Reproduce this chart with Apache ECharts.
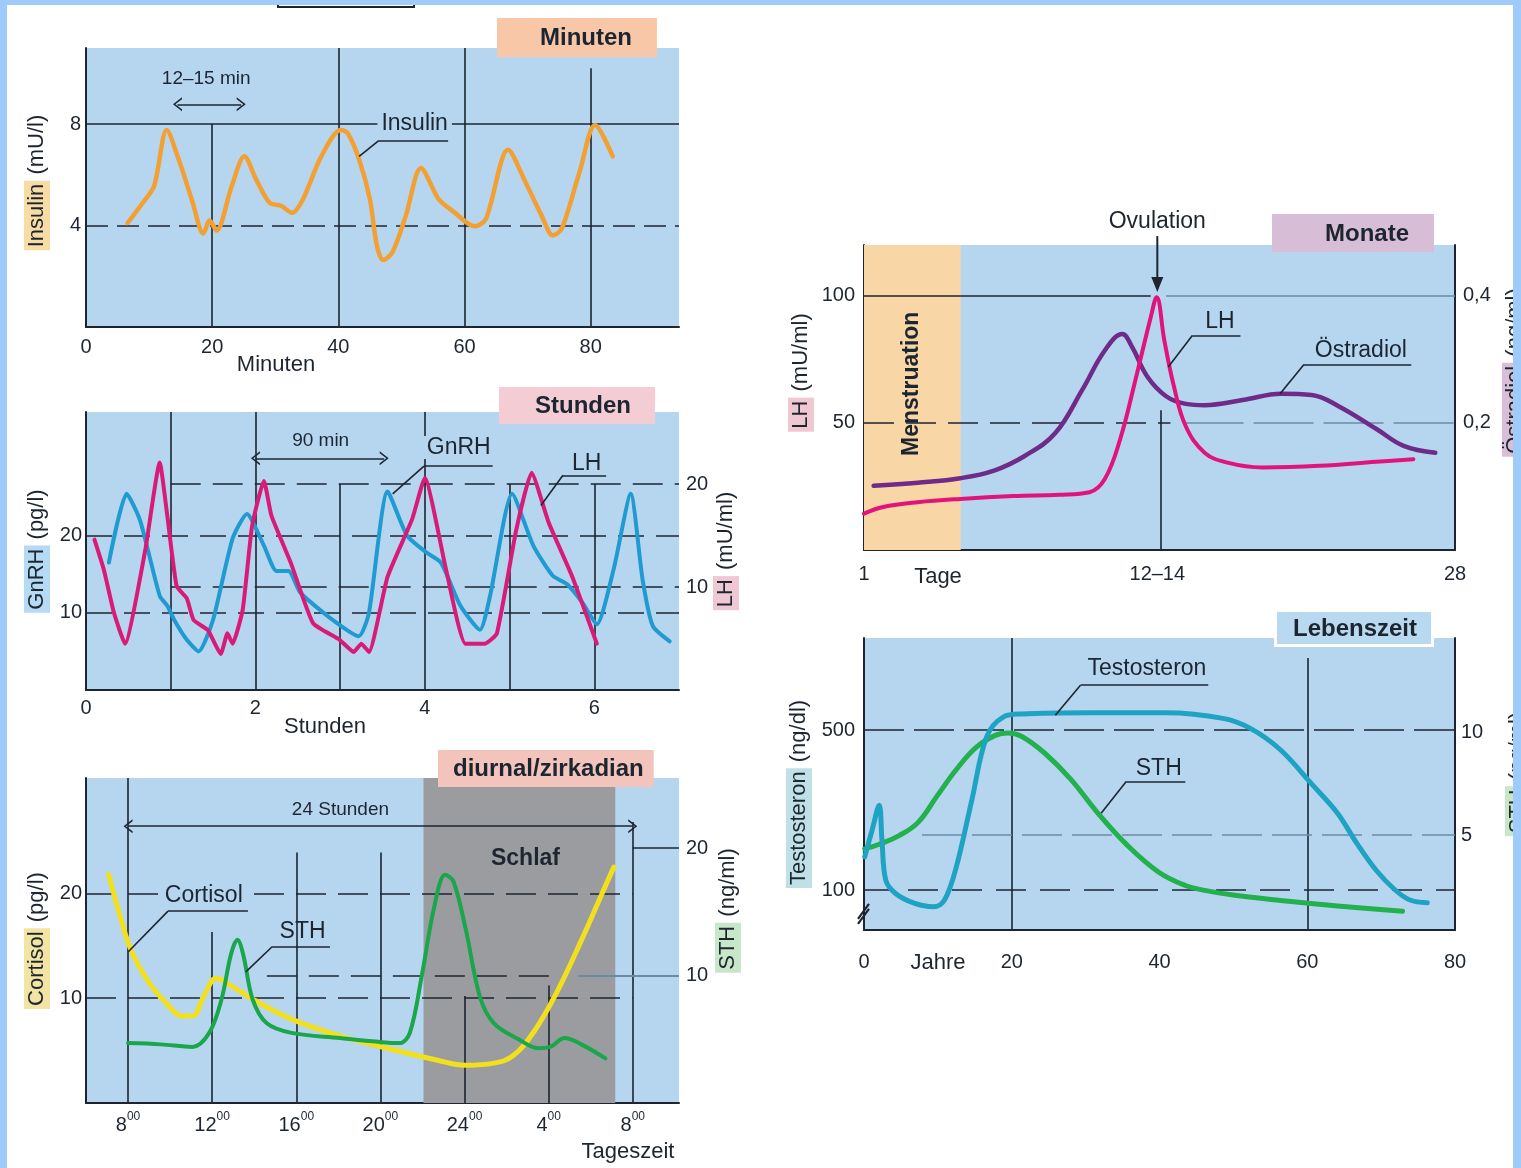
<!DOCTYPE html>
<html lang="de">
<head>
<meta charset="UTF-8">
<title>Hormonrhythmen</title>
<style>
  html, body { margin: 0; background: #fff; }
  #chart { width: 1521px; height: 1168px; }
</style>
</head>
<body>
<div id="chart"></div>
<script src="https://cdn.jsdelivr.net/npm/echarts@6/dist/echarts.min.js"></script>
<script>
// ---- Minuten: Insulin
const insulinMin = [6.6, 9.0, 10.8, 12.8, 14.7, 16.8, 18.6, 19.6, 20.7, 23.1, 25.1, 27.0, 29.1, 30.9, 32.7, 34.4, 37.3, 40.4, 41.5, 43.3, 45.0, 46.1, 47.1, 48.6, 50.7, 53.1, 55.9, 58.4, 61.6, 63.4, 66.9, 69.7, 72.2, 74.0, 75.4, 78.2, 80.7, 83.5];
const insulinVal = [4.1, 4.9, 5.56, 7.77, 6.6, 5.0, 3.68, 4.2, 3.8, 5.56, 6.73, 5.8, 4.9, 4.78, 4.5, 5.04, 6.73, 7.77, 7.64, 6.6, 5.04, 3.22, 2.64, 2.96, 4.39, 6.27, 5.04, 4.52, 3.97, 4.26, 6.99, 5.69, 4.4, 3.61, 3.87, 6.08, 7.96, 6.73];

// ---- Stunden: GnRH (pg/l) and LH (mU/ml)
const gnrhHour = [0.27, 0.48, 0.64, 0.87, 0.96, 1.04, 1.19, 1.33, 1.5, 1.73, 1.9, 2.1, 2.25, 2.39, 2.53, 2.88, 3.22, 3.34, 3.56, 3.79, 4.02, 4.19, 4.42, 4.65, 4.77, 5.03, 5.28, 5.51, 5.68, 5.86, 6.03, 6.23, 6.43, 6.57, 6.69, 6.89];
const gnrhVal = [16.5, 25.4, 21.9, 12.2, 10.9, 9.1, 6.5, 5.0, 9.1, 19.6, 22.8, 18.7, 15.4, 15.4, 12.6, 9.35, 6.96, 10, 25.7, 20, 17.8, 16.5, 10.9, 7.8, 12.2, 25.4, 18.7, 14.8, 13.7, 11.3, 8.5, 15.7, 25.4, 14.3, 8.3, 6.3];
const lhHour = [0.1, 0.21, 0.33, 0.46, 0.70, 0.87, 0.96, 1.07, 1.19, 1.27, 1.44, 1.59, 1.67, 1.73, 1.85, 1.96, 2.1, 2.19, 2.42, 2.68, 2.99, 3.16, 3.25, 3.34, 3.56, 3.85, 4.0, 4.25, 4.48, 4.71, 4.85, 5.08, 5.26, 5.46, 5.74, 6.03];
const lhVal = [14.6, 11.7, 7.5, 4.5, 13.6, 22.1, 16.9, 10.1, 8.9, 6.8, 5.8, 3.5, 5.5, 4.5, 7.8, 15.9, 20.3, 16.9, 12.3, 6.5, 4.9, 3.7, 4.5, 3.7, 11.0, 16.6, 20.6, 11.7, 4.5, 4.5, 5.5, 15.6, 21.1, 16.3, 11.0, 4.5];

// ---- diurnal: Cortisol (pg/l) and STH (ng/ml); hours after midnight of day 1 (28 = 4 Uhr, 32 = 8 Uhr)
const cortisolHour = [7.08, 7.61, 8.18, 8.99, 9.79, 10.6, 11.06, 11.63, 12.2, 12.9, 13.93, 15.77, 18.07, 20.37, 22.67, 24.05, 25.4, 26.3, 27.3, 28.4, 29.6, 30.5, 31.1];
const cortisolVal = [21.8, 17.9, 14.4, 11.5, 9.6, 8.3, 8.3, 10.3, 11.9, 11.2, 9.9, 8.0, 6.4, 5.2, 4.1, 3.6, 3.8, 4.5, 6.8, 10.6, 15.7, 19.8, 22.5];
const sthDayHour = [8.0, 9.56, 11.06, 11.86, 12.44, 12.9, 13.2, 13.47, 13.93, 14.6, 15.77, 18.07, 19.9, 20.9, 21.4, 21.98, 22.55, 23.08, 23.47, 24.05, 24.74, 25.4, 26.57, 27.5, 28.07, 28.76, 29.56, 30.7];
const sthDayVal = [4.7, 4.6, 4.4, 5.5, 8.1, 11.7, 12.8, 11.7, 8.1, 6.25, 5.5, 5.1, 4.8, 4.7, 5.5, 10.1, 15.3, 17.9, 17.4, 13.7, 8.3, 6.25, 5.0, 4.3, 4.4, 5.1, 4.6, 3.5];
const dayTicks = [8, 12, 16, 20, 24, 28, 32];
const sleepSpan = [22.05, 31.17];

// ---- Monate: LH (mU/ml) and Östradiol (ng/ml)
const cycleDayLH = [1.0, 1.87, 3.45, 5.4, 7.82, 9.92, 11.3, 12.0, 12.7, 13.4, 14.1, 14.37, 14.72, 15.16, 15.7, 16.56, 17.6, 19.2, 21.8, 24.4, 26.1];
const cycleLH = [14.3, 16.9, 18.8, 20.1, 21.2, 21.7, 22.7, 27.9, 43.5, 66.9, 91.6, 99.4, 82.5, 64.3, 48.7, 38.3, 34.4, 32.5, 33.1, 34.7, 35.7];
const cycleDayOe = [1.44, 3.45, 5.4, 6.94, 8.34, 9.74, 10.97, 12.0, 12.8, 13.24, 13.94, 14.8, 15.7, 16.56, 18.3, 20.06, 21.45, 22.7, 24.43, 25.65, 27.1];
const cycleOe = [0.101, 0.106, 0.113, 0.125, 0.148, 0.184, 0.252, 0.314, 0.340, 0.320, 0.273, 0.242, 0.230, 0.228, 0.236, 0.246, 0.244, 0.226, 0.190, 0.164, 0.153];
const mensSpan = [1, 5.42];
const ovulationDay = 14.4;

// ---- Lebenszeit: Testosteron (ng/dl) and STH (ng/ml)
const testoYear = [0.1, 1.1, 2.06, 2.43, 2.94, 4.23, 6.8, 9.4, 10.9, 12.5, 14.6, 16.6, 18.9, 21.3, 30.6, 40.9, 48.6, 52.3, 56.4, 60.5, 64.1, 66.7, 69.3, 71.9, 73.9, 76.25];
const testoVal = [183, 250, 312, 225, 125, 92, 67, 58, 75, 158, 325, 483, 533, 540, 543, 543, 529, 504, 450, 367, 292, 217, 150, 100, 75, 68];
const sthLifeYear = [0.1, 2.17, 4.75, 7.33, 9.9, 12.5, 15.1, 17.7, 19.5, 21.3, 24.4, 28.0, 31.6, 35.7, 39.9, 43.5, 46.1, 50.2, 56.4, 64.1, 72.9];
const sthLifeVal = [4.32, 4.56, 4.97, 5.62, 6.92, 8.21, 9.27, 9.87, 10.0, 9.84, 9.03, 7.73, 6.1, 4.48, 3.18, 2.53, 2.29, 2.05, 1.8, 1.53, 1.27];

// ---------------------------------------------------------------
const FONT = "'Liberation Sans', Arial, Helvetica, sans-serif";
const INK = '#1c2530';
const PLOT = '#b6d6f0';
const FADE = '#6b8ba5';
const CHEV = 'path://M0,10 L5,0 L10,10 L8.6,10 L5,2.6 L1.4,10 Z';

function pts(xs, ys) { return xs.map((x, i) => [x, ys[i]]); }

function seg(a, b, o) {
  o = o || {};
  return [
    { coord: a, symbol: o.s1 || 'none', symbolSize: o.size || 10,
      lineStyle: { color: o.color || INK, width: o.width || 1.6, type: o.type || 'solid' } },
    { coord: b, symbol: o.s2 || 'none', symbolSize: o.size || 10 }
  ];
}

function tag(x, y, text, o) {
  o = o || {};
  return {
    coord: [x, y], symbol: 'circle', symbolSize: 1, itemStyle: { color: 'rgba(0,0,0,0)' },
    label: {
      show: true, position: 'inside', formatter: text, fontFamily: FONT,
      fontSize: o.size || 23, fontWeight: o.bold ? 'bold' : 'normal', color: INK,
      rotate: o.rotate || 0, backgroundColor: o.bg || 'transparent', padding: o.pad || [0, 4]
    }
  };
}

function frame(name, x, y, lines, area) {
  const s = {
    name: name, type: 'line', xAxisIndex: x, yAxisIndex: y, data: [], silent: true,
    markLine: { silent: true, z: 2, animation: false, symbol: ['none', 'none'],
      label: { show: false }, data: lines }
  };
  if (area) {
    s.markArea = { silent: true, z: 1, animation: false, data: area.data,
      itemStyle: { color: area.color } };
  }
  return s;
}

function curve(name, x, y, data, color, width, smooth, ann) {
  const s = {
    name: name, type: 'line', xAxisIndex: x, yAxisIndex: y, data: data, z: 3,
    showSymbol: false, smooth: smooth, silent: true,
    lineStyle: { color: color, width: width, cap: 'round', join: 'round' }
  };
  if (ann) {
    s.markLine = { silent: true, animation: false, symbol: ['none', 'none'],
      label: { show: false }, data: ann.lines };
    s.markPoint = { silent: true, animation: false, data: ann.tags };
  }
  return s;
}

function xAx(grid, min, max, ticks, margin, fmt) {
  return {
    type: 'value', gridIndex: grid, min: min, max: max,
    axisLine: { show: true, onZero: false, lineStyle: { color: INK, width: 2 } },
    axisTick: { show: false }, splitLine: { show: false },
    axisLabel: { customValues: ticks, margin: margin, fontSize: 20, fontFamily: FONT,
      color: INK, formatter: fmt, rich: {
        n: { fontSize: 20, fontFamily: FONT, color: INK, lineHeight: 24, verticalAlign: 'bottom' },
        s: { fontSize: 12, fontFamily: FONT, color: INK, lineHeight: 24, verticalAlign: 'top' }
      } }
  };
}

// shift > 0 moves the rotated axis name upwards
function yAx(grid, min, max, ticks, pos, name, hl, gap, margin, showLine, fmt, shift) {
  return {
    type: 'value', gridIndex: grid, min: min, max: max, position: pos,
    axisLine: { show: showLine, onZero: false, lineStyle: { color: INK, width: 2 } },
    axisTick: { show: false }, splitLine: { show: false },
    axisLabel: { customValues: ticks, margin: margin, fontSize: 20, fontFamily: FONT,
      color: INK, formatter: fmt },
    name: name, nameLocation: 'middle', nameRotate: 90, nameGap: gap,
    nameTextStyle: { fontSize: 22, fontFamily: FONT, color: INK, padding: [0, 0, 0, shift || 0],
      rich: { hl: { backgroundColor: hl, padding: [2, 3], fontSize: 22, fontFamily: FONT, color: INK } } }
  };
}

function box(text, left, top, pad, bg, border) {
  return {
    text: text, left: left, top: top, padding: pad, backgroundColor: bg,
    borderColor: border ? '#ffffff' : 'transparent', borderWidth: border ? 3 : 0,
    textStyle: { fontSize: 24, lineHeight: 24, fontWeight: 'bold', fontFamily: FONT, color: INK }
  };
}

function caption(text, x, y, size) {
  return { type: 'text', x: x, y: y, z: 50, silent: true,
    style: { text: text, fill: INK, font: (size || 22) + 'px ' + FONT, textAlign: 'center',
      textVerticalAlign: 'middle', align: 'center', verticalAlign: 'middle' } };
}

const dayFmt = v => '{n|' + (v > 24 ? v - 24 : v) + '}{s|00}';
const commaFmt = v => String(v).replace('.', ',');

const option = {
  animation: false,
  backgroundColor: '#ffffff',
  title: [
    box('Minuten', 497, 18, [8, 25, 7, 43], '#f8c7a8'),
    box('Stunden', 499, 387, [7, 24, 6, 36], '#f3cdd3'),
    box('diurnal/zirkadian', 438, 750, [7, 10, 6, 15], '#f2c4bb'),
    box('Monate', 1272, 214, [8, 25, 6, 53], '#d8bdd6'),
    box('Lebenszeit', 1275, 610, [7, 16, 5, 18], '#b9d9f1', true)
  ],
  grid: [
    { left: 86, top: 48, width: 593, height: 279 },
    { left: 86, top: 412, width: 593, height: 278 },
    { left: 86, top: 778, width: 593, height: 325 },
    { left: 864, top: 245, width: 591, height: 305 },
    { left: 864, top: 638, width: 591, height: 292 }
  ].map(g => Object.assign(g, { show: true, backgroundColor: PLOT, borderWidth: 0,
    containLabel: false, outerBoundsMode: 'none' })),
  xAxis: [
    xAx(0, 0, 94, [0, 20, 40, 60, 80], 10),
    xAx(1, 0, 7, [0, 2, 4, 6], 8),
    xAx(2, 6, 34.2, dayTicks, 8, dayFmt),
    xAx(3, 1, 28, [1, ovulationDay, 28], 14, v => (v === ovulationDay ? '12–14' : String(v))),
    xAx(4, 0, 80, [0, 20, 40, 60, 80], 22)
  ],
  yAxis: [
    yAx(0, 0, 11, [4, 8], 'left', '{hl|Insulin} (mU/l)', '#f8dca5', 36, 5, true, null, 10),
    yAx(1, 0, 36, [10, 20], 'left', '{hl|GnRH} (pg/l)', '#b5daf3', 36, 4, true),
    yAx(1, 0, 27, [10, 20], 'right', '{hl|LH} (mU/ml)', '#f0c8d3', 34, 7, false),
    yAx(2, 0, 31, [10, 20], 'left', '{hl|Cortisol} (pg/l)', '#f2e4a2', 36, 4, true),
    yAx(2, 0, 25.5, [10, 20], 'right', '{hl|STH} (ng/ml)', '#c8e6c8', 36, 7, false, null, 60),
    yAx(3, 0, 120, [50, 100], 'left', '{hl|LH} (mU/ml)', '#efc8d2', 50, 9, true, null, 50),
    yAx(3, 0, 0.48, [0.2, 0.4], 'right', '{hl|Östradiol} (ng/ml)', '#d8bed6', 47, 8, true, commaFmt, 50),
    yAx(4, 0, 730, [100, 500], 'left', '{hl|Testosteron} (ng/dl)', '#bfe1e6', 52, 9, true, null, -20),
    yAx(4, 0.35, 14.65, [5, 10], 'right', '{hl|STH} (ng/ml)', '#c8e6c8', 50, 6, true, null, 20)
  ],
  series: [
    // Minuten
    frame('g0', 0, 0, [
      seg([0, 8], [94, 8]),
      seg([0, 4], [94, 4], { type: [22, 9] }),
      seg([20, 0], [20, 8]), seg([40, 0], [40, 11]), seg([60, 0], [60, 11]), seg([80, 0], [80, 10.2])
    ]),
    curve('Insulin', 0, 0, pts(insulinMin, insulinVal), '#f2a033', 4.5, 0.3, {
      lines: [
        seg([14.5, 8.78], [24.6, 8.78], { s1: CHEV, s2: CHEV, size: [14, 9] }),
        seg([43.3, 6.73], [46.4, 7.35]), seg([46.4, 7.35], [57.4, 7.35])
      ],
      tags: [tag(19.05, 9.78, '12–15 min', { size: 19 }), tag(52.1, 8.03, 'Insulin', { bg: PLOT })]
    }),

    // Stunden
    frame('g1L', 1, 1, [
      seg([0, 20], [7, 20], { type: [26, 12] }),
      seg([0, 10], [7, 10], { type: [26, 12] }),
      seg([1, 0], [1, 36]), seg([2, 0], [2, 36]), seg([4, 0], [4, 36])
    ]),
    frame('g1R', 1, 2, [
      seg([1, 20], [7, 20], { type: [30, 12] }),
      seg([1, 10], [7, 10], { type: [30, 12] }),
      seg([3, 0], [3, 20]), seg([5, 0], [5, 20]), seg([6, 0], [6, 20])
    ]),
    curve('GnRH', 1, 1, pts(gnrhHour, gnrhVal), '#1f9bd1', 4, 0.2, {
      lines: [
        seg([2.0, 30], [3.52, 30], { s1: CHEV, s2: CHEV, size: [14, 9] }),
        seg([3.62, 25.4], [3.99, 29.0]), seg([3.99, 29.0], [4.8, 29.0]),
        seg([5.37, 23.9], [5.63, 27.8]), seg([5.63, 27.8], [6.14, 27.8])
      ],
      tags: [tag(2.77, 32.3, '90 min', { size: 19 }), tag(4.4, 31.4, 'GnRH', { bg: PLOT }),
        tag(5.91, 29.3, 'LH')]
    }),
    curve('LH', 1, 2, pts(lhHour, lhVal), '#d81b77', 4, 0.15),

    // diurnal / zirkadian
    frame('g2L', 2, 3, [
      seg([6, 20], [32, 20], { type: [30, 12] }),
      seg([6, 10], [32, 10], { type: [30, 12] }),
      seg([8, 0], [8, 31]), seg([12, 0], [12, 16.3]), seg([16, 0], [16, 23.9]),
      seg([20, 0], [20, 23.9]), seg([24, 0], [24, 10.2]), seg([28, 0], [28, 11.2]),
      seg([32, 0], [32, 26.8])
    ], { data: [[{ xAxis: sleepSpan[0] }, { xAxis: sleepSpan[1] }]], color: '#9b9ca0' }),
    frame('g2R', 2, 4, [
      seg([32, 20], [34.2, 20]),
      seg([14.6, 10], [28.4, 10], { type: [30, 12] }),
      seg([29.4, 10], [34.2, 10], { color: FADE, width: 2 })
    ]),
    curve('Cortisol', 2, 3, pts(cortisolHour, cortisolVal), '#f3e01c', 5, 0.4, {
      lines: [
        seg([8, 26.4], [32, 26.4], { s1: CHEV, s2: CHEV, size: [14, 9] }),
        seg([8, 14.4], [9.9, 18.3]), seg([9.9, 18.3], [13.7, 18.3]),
        seg([13.6, 12.5], [14.85, 14.9]), seg([14.85, 14.9], [17.6, 14.9])
      ],
      tags: [tag(18.1, 28.0, '24 Stunden', { size: 19 }), tag(26.9, 23.3, 'Schlaf', { bold: true }),
        tag(11.6, 19.8, 'Cortisol', { bg: PLOT }), tag(16.3, 16.3, 'STH')]
    }),
    curve('STH', 2, 4, pts(sthDayHour, sthDayVal), '#1aa64a', 4, 0.35),

    // Monate
    frame('g3', 3, 5, [
      seg([1, 100], [14.1, 100]),
      seg([14.8, 100], [28, 100], { color: FADE }),
      seg([1, 50], [15, 50], { type: [30, 12] }),
      seg([15.6, 50], [28, 50], { color: FADE, type: [60, 10] }),
      seg([14.55, 0], [14.55, 55])
    ], { data: [[{ xAxis: mensSpan[0] }, { xAxis: mensSpan[1] }]], color: '#f9d6a6' }),
    curve('Östradiol', 3, 6, pts(cycleDayOe, cycleOe), '#6e2b87', 4.5, 0.4),
    curve('LH Zyklus', 3, 5, pts(cycleDayLH, cycleLH), '#e0147a', 4, 0.4, {
      lines: [
        seg([14.9, 72], [16.0, 84.4]), seg([16.0, 84.4], [18.2, 84.4]),
        seg([20.0, 61.4], [21.1, 73]), seg([21.1, 73], [26.0, 73])
      ],
      tags: [tag(17.26, 90, 'LH'), tag(23.7, 78.6, 'Östradiol'),
        tag(3.19, 65.4, 'Menstruation', { bold: true, rotate: 90 })]
    }),

    // Lebenszeit
    frame('g4L', 4, 7, [
      seg([20, 0], [20, 730]), seg([60, 0], [60, 680]),
      seg([0, 500], [80, 500], { type: [40, 10] }),
      seg([0, 100], [80, 100], { type: [30, 14] })
    ]),
    frame('g4R', 4, 8, [
      seg([7.85, 5], [80, 5], { color: FADE, type: [40, 10] })
    ]),
    curve('STH Leben', 4, 8, pts(sthLifeYear, sthLifeVal), '#22b14c', 5, 0.4),
    curve('Testosteron', 4, 7, pts(testoYear, testoVal), '#1ea3c3', 5, 0.35, {
      lines: [
        seg([25.9, 537], [29.3, 612]), seg([29.3, 612], [46.6, 612]),
        seg([32.1, 292], [35.5, 371]), seg([35.5, 371], [43.5, 371])
      ],
      tags: [tag(38.3, 654, 'Testosteron'), tag(39.9, 404, 'STH')]
    })
  ],
  graphic: [
    caption('Minuten', 276, 365),
    caption('Stunden', 325, 727),
    caption('Tageszeit', 628, 1152),
    caption('Tage', 938, 577),
    caption('Jahre', 938, 963),
    { type: 'rect', z: 60, silent: true, shape: { x: 278, y: -4, width: 136, height: 11 },
      style: { fill: '#ffffff', stroke: '#222222', lineWidth: 2 } },
    { type: 'rect', z: 100, silent: true, shape: { x: 0, y: 0, width: 7, height: 1168 }, style: { fill: '#9ecbfa' } },
    { type: 'rect', z: 100, silent: true, shape: { x: 0, y: 0, width: 1521, height: 5 }, style: { fill: '#9ecbfa' } },
    { type: 'rect', z: 100, silent: true, shape: { x: 1513, y: 0, width: 8, height: 1168 }, style: { fill: '#9ecbfa' } }
  ]
};

const chart = echarts.init(document.getElementById('chart'));
chart.setOption(option);

// annotations that sit outside the axis extents (markers there are dropped):
// place them through the grid's own scale
const ovText = chart.convertToPixel({ gridIndex: 3 }, [ovulationDay, 129]);
const ovFrom = chart.convertToPixel({ gridIndex: 3 }, [ovulationDay, 123.5]);
const ovTo = chart.convertToPixel({ gridIndex: 3 }, [ovulationDay, 101.5]);
const brk = chart.convertToPixel({ gridIndex: 4 }, [0, 38]);
const extra = [
  caption('Ovulation', ovText[0], ovText[1], 23),
  { type: 'line', z: 50, silent: true,
    shape: { x1: ovFrom[0], y1: ovFrom[1], x2: ovTo[0], y2: ovTo[1] - 12 },
    style: { stroke: INK, lineWidth: 2 } },
  { type: 'polygon', z: 50, silent: true,
    shape: { points: [[ovTo[0] - 6, ovTo[1] - 15], [ovTo[0] + 6, ovTo[1] - 15], [ovTo[0], ovTo[1]]] },
    style: { fill: INK } },
  { type: 'line', z: 50, silent: true,
    shape: { x1: brk[0] - 6, y1: brk[1] + 9, x2: brk[0] + 5, y2: brk[1] - 6 },
    style: { stroke: INK, lineWidth: 2.2 } },
  { type: 'line', z: 50, silent: true,
    shape: { x1: brk[0] - 6, y1: brk[1] + 4, x2: brk[0] + 5, y2: brk[1] - 11 },
    style: { stroke: INK, lineWidth: 2.2 } }
];
chart.setOption({ graphic: option.graphic.concat(extra) });
</script>
</body>
</html>
